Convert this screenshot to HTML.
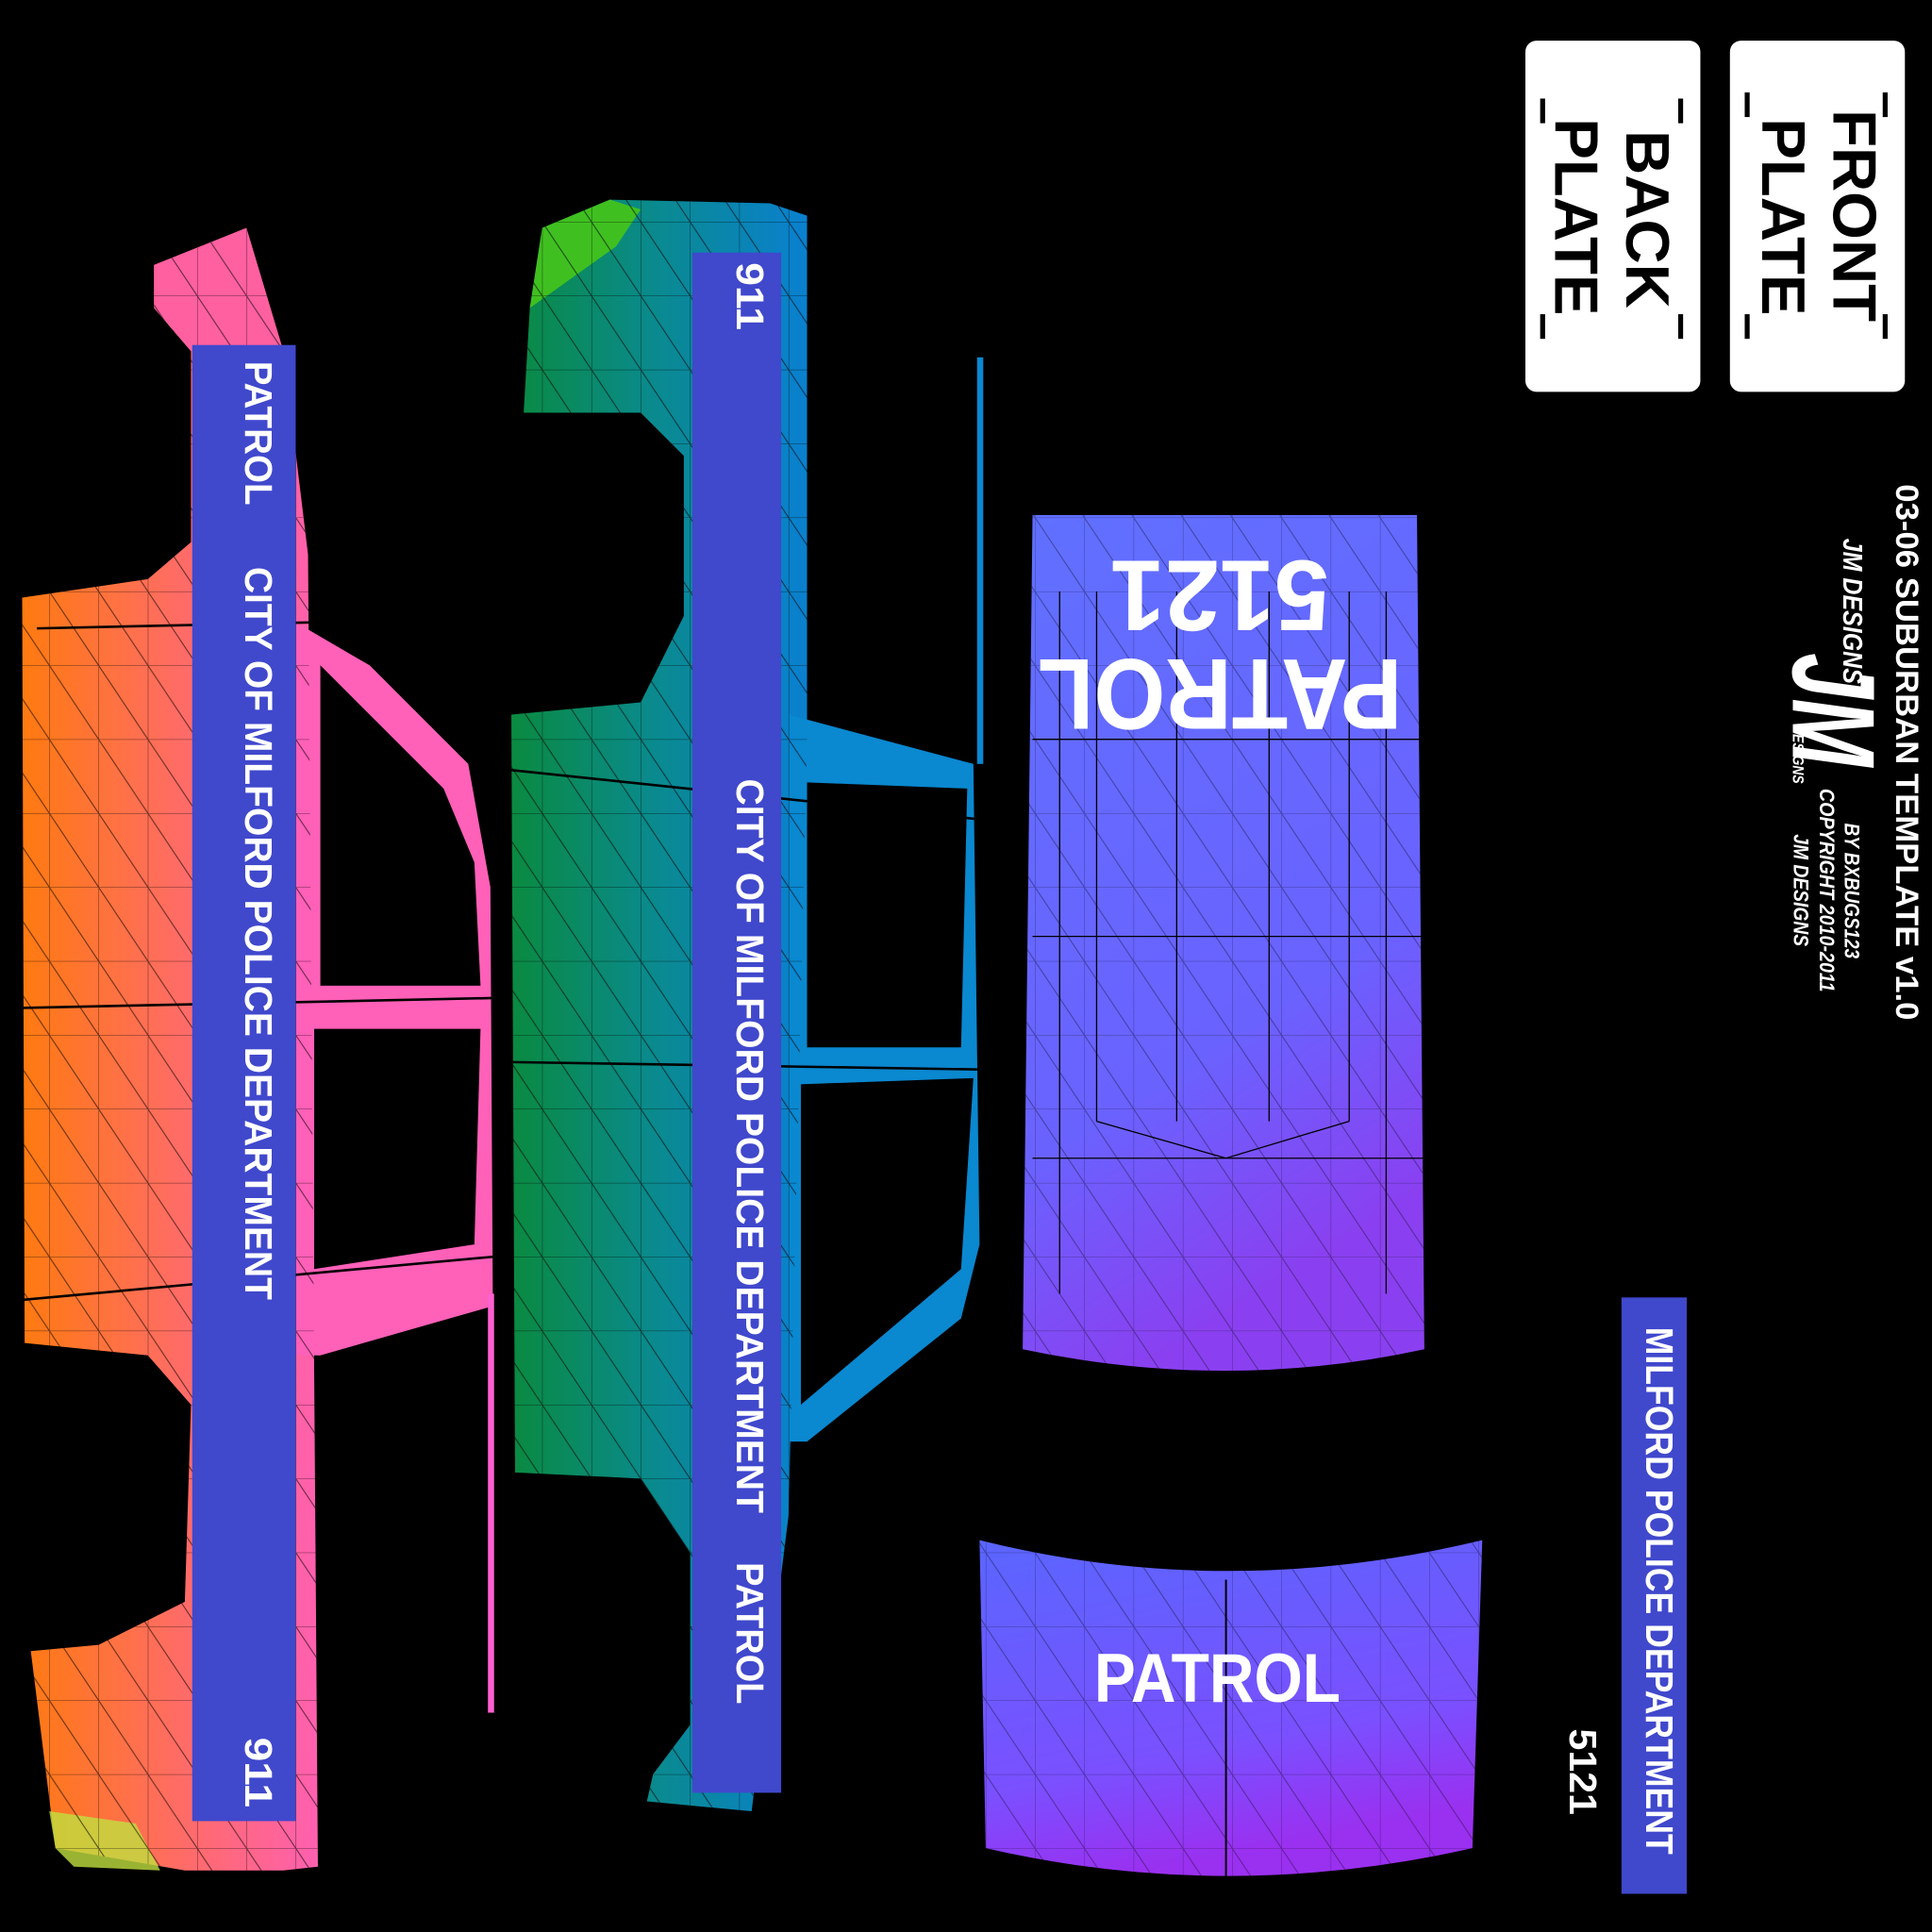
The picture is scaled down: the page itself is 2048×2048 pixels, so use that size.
<!DOCTYPE html>
<html><head><meta charset="utf-8"><style>
html,body{margin:0;padding:0;background:#000;width:2048px;height:2048px;overflow:hidden}
svg{display:block}
.w{fill:#fff;font-family:"Liberation Sans",sans-serif}
.b{font-weight:bold}
</style></head><body>
<svg width="2048" height="2048" viewBox="0 0 1568 1568" xmlns="http://www.w3.org/2000/svg">
<defs>
<linearGradient id="og" x1="0" y1="0" x2="1" y2="0"><stop offset="0" stop-color="#ff7a10"/><stop offset="0.6" stop-color="#ff6a70"/><stop offset="1" stop-color="#ff60b0"/></linearGradient>
<linearGradient id="tg" x1="0" y1="0" x2="1" y2="0"><stop offset="0" stop-color="#0a8a40"/><stop offset="0.5" stop-color="#0a8a90"/><stop offset="1" stop-color="#0a80d0"/></linearGradient>
<linearGradient id="rg" x1="0" y1="0" x2="0.3" y2="1"><stop offset="0" stop-color="#6070ff"/><stop offset="0.7" stop-color="#6a62ff"/><stop offset="1" stop-color="#8a40f0"/></linearGradient>
<linearGradient id="hg" x1="0" y1="0" x2="0.3" y2="1"><stop offset="0" stop-color="#5a66ff"/><stop offset="0.7" stop-color="#7a50ff"/><stop offset="1" stop-color="#9a30f0"/></linearGradient>
<pattern id="mesh" width="40" height="60" patternUnits="userSpaceOnUse"><path d="M0 0 L40 60 M0 0 H40 M0 0 V60" stroke="#000" stroke-width="0.8" fill="none" opacity="0.6"/></pattern>
</defs>
<rect width="1568" height="1568" fill="#000"/>

<g>
<path d="M125 215 L200 185 L230 285 L250 450 L258 1515 L230 1518 L150 1518 L45 1500 L25 1340 L80 1335 L150 1300 L155 1140 L120 1100 L20 1090 L18 485 L120 470 L155 440 L155 285 L125 250 Z" fill="url(#og)"/>
<path d="M125 215 L200 185 L230 285 L155 285 L125 250 Z" fill="#ff60a0"/>
<path d="M45 1500 L60 1515 L130 1518 L110 1480 L40 1470 Z" fill="#c0e040" opacity="0.8"/>
<path d="M240 505 L300 540 L380 620 L398 720 L400 1060 L260 1100 L240 1100 Z M260 540 L260 800 L390 800 L385 700 L360 640 Z M255 835 L255 1030 L385 1010 L390 835 Z" fill="#ff60b8" fill-rule="evenodd"/>
<rect x="396" y="1050" width="5" height="340" fill="#ff60d0"/>
<path d="M125 215 L200 185 L230 285 L250 450 L258 1515 L230 1518 L150 1518 L45 1500 L25 1340 L80 1335 L150 1300 L155 1140 L120 1100 L20 1090 L18 485 L120 470 L155 440 L155 285 L125 250 Z" fill="url(#mesh)"/>
<line x1="18" y1="818" x2="400" y2="810" stroke="#000" stroke-width="2"/>
<line x1="18" y1="1055" x2="400" y2="1020" stroke="#000" stroke-width="2"/>
<line x1="30" y1="510" x2="260" y2="505" stroke="#000" stroke-width="2"/>
</g>
<rect x="156" y="280" width="84" height="1198" fill="#4048cc"/>

<g>
<path d="M440 185 L495 162 L625 165 L655 175 L655 600 L640 1230 L610 1470 L525 1462 L530 1440 L560 1400 L560 1260 L520 1200 L418 1195 L415 580 L520 570 L555 500 L555 370 L520 335 L425 335 L430 250 Z" fill="url(#tg)"/>
<path d="M440 185 L495 162 L520 170 L500 200 L430 250 Z" fill="#40c020"/>
<path d="M640 580 L790 620 L795 1010 L780 1070 L655 1170 L640 1170 Z M655 635 L655 850 L780 850 L785 640 Z M650 880 L650 1140 L780 1030 L790 875 Z" fill="#0a88d0" fill-rule="evenodd"/>
<rect x="793" y="290" width="5" height="330" fill="#0a88d0"/>
<path d="M440 185 L495 162 L625 165 L655 175 L655 600 L640 1230 L610 1470 L525 1462 L530 1440 L560 1400 L560 1260 L520 1200 L418 1195 L415 580 L520 570 L555 500 L555 370 L520 335 L425 335 L430 250 Z" fill="url(#mesh)"/>
<line x1="415" y1="625" x2="795" y2="665" stroke="#000" stroke-width="2"/>
<line x1="415" y1="862" x2="795" y2="868" stroke="#000" stroke-width="2"/>
</g>
<rect x="562" y="205" width="72" height="1250" fill="#4048cc"/>

<path d="M838 418 H1150 L1156 1095 Q995 1130 830 1095 Z" fill="url(#rg)"/>
<path d="M838 418 H1150 L1156 1095 Q995 1130 830 1095 Z" fill="url(#mesh)" opacity="0.6"/>
<g stroke="#000" stroke-width="1" fill="none">
<path d="M860 480 V1050 M890 480 V910 M955 480 V910 M1030 480 V910 M1095 480 V910 M1125 480 V1050 M890 910 L995 940 L1095 910 M838 940 H1156 M838 760 H1156 M838 600 H1156"/>
</g>
<path d="M795 1250 Q995 1300 1203 1250 L1195 1500 Q995 1545 800 1500 Z" fill="url(#hg)"/>
<path d="M795 1250 Q995 1300 1203 1250 L1195 1500 Q995 1545 800 1500 Z" fill="url(#mesh)" opacity="0.6"/>
<line x1="995" y1="1282" x2="995" y2="1530" stroke="#000" stroke-width="1.5"/>

<rect x="1238" y="33" width="142" height="285" rx="9" fill="#fff"/>
<rect x="1404" y="33" width="142" height="285" rx="9" fill="#fff"/>
<g fill="#000">
<rect x="1250" y="80" width="4" height="20"/><rect x="1250" y="255" width="4" height="20"/>
<rect x="1362" y="80" width="4" height="20"/><rect x="1362" y="255" width="4" height="20"/>
<rect x="1416" y="75" width="4" height="20"/><rect x="1416" y="255" width="4" height="20"/>
<rect x="1528" y="75" width="4" height="20"/><rect x="1528" y="255" width="4" height="20"/>
</g>
<g font-family="Liberation Sans,sans-serif" font-weight="bold" font-size="50" fill="#000" text-anchor="middle">
<text transform="translate(1488,175) rotate(90)">FRONT</text>
<text transform="translate(1430,176) rotate(90)">PLATE</text>
<text transform="translate(1320,178) rotate(90)">BACK</text>
<text transform="translate(1262,176) rotate(90)">PLATE</text>
</g>

<g class="w b" font-size="31" font-family="Liberation Sans,sans-serif">
<text transform="translate(199,293) rotate(90)" textLength="117" lengthAdjust="spacingAndGlyphs">PATROL</text>
<text transform="translate(199,460) rotate(90)" textLength="595" lengthAdjust="spacingAndGlyphs">CITY OF MILFORD POLICE DEPARTMENT</text>
<text transform="translate(199,1410) rotate(90)" textLength="57" lengthAdjust="spacingAndGlyphs">911</text>
<text transform="translate(598,213) rotate(90)" textLength="55" lengthAdjust="spacingAndGlyphs">911</text>
<text transform="translate(598,632) rotate(90)" textLength="596" lengthAdjust="spacingAndGlyphs">CITY OF MILFORD POLICE DEPARTMENT</text>
<text transform="translate(598,1268) rotate(90)" textLength="115" lengthAdjust="spacingAndGlyphs">PATROL</text>
<rect x="1316" y="1053" width="53" height="484" fill="#4048cc"/>
<text transform="translate(1336,1077) rotate(90)" textLength="428" lengthAdjust="spacingAndGlyphs">MILFORD POLICE DEPARTMENT</text>
<text transform="translate(1274,1403) rotate(90)" textLength="70" lengthAdjust="spacingAndGlyphs">5121</text>
</g>
<g class="w b" font-family="Liberation Sans,sans-serif" text-anchor="middle">
<text transform="translate(990,535) rotate(180)" font-size="82" textLength="296" lengthAdjust="spacingAndGlyphs">PATROL</text>
<text transform="translate(990,455) rotate(180)" font-size="82" textLength="178" lengthAdjust="spacingAndGlyphs">5121</text>
<text x="988" y="1381" font-size="56" textLength="200" lengthAdjust="spacingAndGlyphs">PATROL</text>
</g>

<g class="w b" font-family="Liberation Sans,sans-serif">
<text transform="translate(1539,393) rotate(90)" font-size="26" textLength="435" lengthAdjust="spacingAndGlyphs">03-06 SUBURBAN TEMPLATE v1.0</text>
<text transform="translate(1496,437) rotate(90)" font-size="22" font-style="italic" textLength="118" lengthAdjust="spacingAndGlyphs">JM DESIGNS</text>
<text transform="translate(1455,530) rotate(90)" font-size="95" font-style="italic" textLength="92" lengthAdjust="spacingAndGlyphs">JM</text>
<text transform="translate(1455,588) rotate(90)" font-size="13" font-style="italic" textLength="48" lengthAdjust="spacingAndGlyphs">DESIGNS</text>
<text transform="translate(1497,668) rotate(90)" font-size="17" font-style="italic" textLength="110" lengthAdjust="spacingAndGlyphs">BY BXBUGS123</text>
<text transform="translate(1477,640) rotate(90)" font-size="17" font-style="italic" textLength="165" lengthAdjust="spacingAndGlyphs">COPYRIGHT 2010-2011</text>
<text transform="translate(1456,677) rotate(90)" font-size="17" font-style="italic" textLength="91" lengthAdjust="spacingAndGlyphs">JM DESIGNS</text>
</g>
</svg>
</body></html>
